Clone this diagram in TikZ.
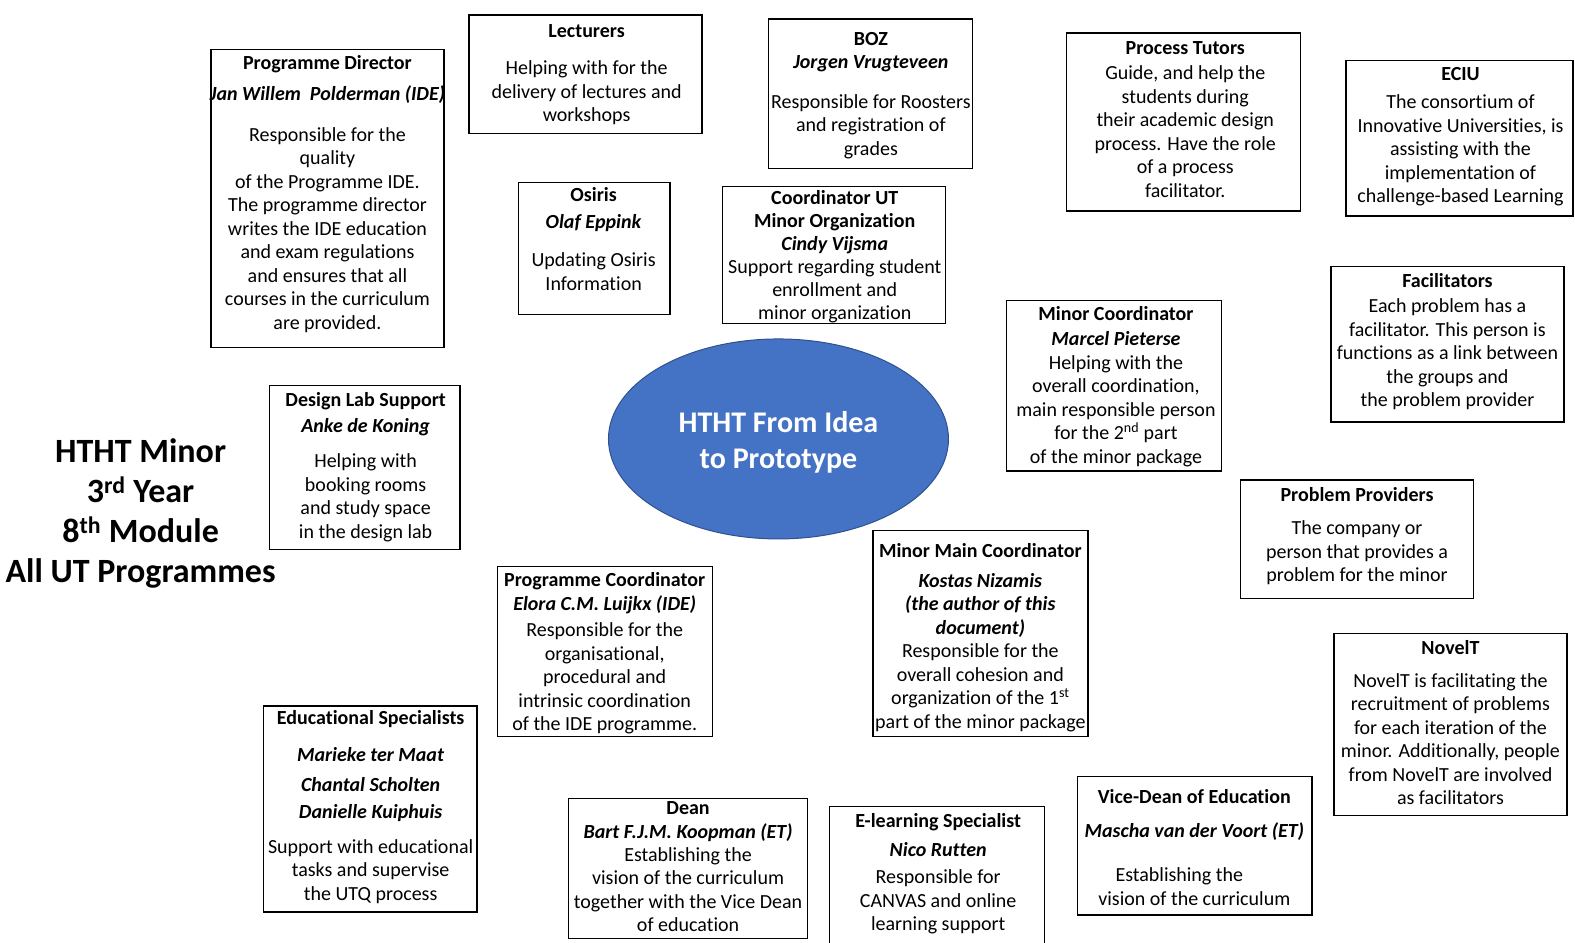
\documentclass[tikz,border=0pt]{standalone}
\usepackage{fontspec}
\setmainfont{Carlito}[Ligatures=NoCommon]
\usetikzlibrary{fit,shapes.geometric}
\definecolor{ovalfill}{HTML}{4472C4}
\definecolor{ovaldraw}{HTML}{2F528F}
\newcommand\hd[1]{\textbf{#1}}
\newcommand\nm[1]{\textbf{\textit{#1}}}
\begin{document}
\begin{tikzpicture}[x=1.0045pt,y=-1.0045pt,
  box/.style={draw=black, line width=1.3pt, inner sep=0pt},
  txt/.style={align=center, inner sep=0pt, anchor=north, yshift=-2pt,
    font=\fontsize{20}{23.5}\selectfont},
  bigtitle/.style={align=center, inner sep=0pt, anchor=north,
    font=\fontsize{34}{40}\selectfont\bfseries},
  oval/.style={ellipse, fill=ovalfill, draw=ovaldraw, line width=1pt,
    minimum width=340pt, minimum height=200pt, inner sep=0pt},
  ovaltext/.style={align=center, inner sep=0pt, text=white,
    font=\fontsize{30}{36}\selectfont\bfseries}]
\useasboundingbox (0,0) rectangle (1568,938);

% side title
\node[bigtitle] (title) at (140,432)
  {\strut HTHT Minor\\ 3\textsuperscript{rd} Year\\ 8\textsuperscript{th} Module\\ All UT Programmes};

% central oval
\node[oval] (core) at (775,437) {};
\node[ovaltext] (coret) at (775,440) {HTHT From Idea\\ to Prototype};

% Programme Director
\node[box, fit={(210,49) (442,346)}] (pd) {};
\node[txt] (pdt) at (326,50.5) {\strut\hd{Programme Director}\\[8pt]
  \nm{Jan Willem\ \ Polderman (IDE)}\\[17pt]
  Responsible for the\\ quality\\ of the Programme IDE.\\ The programme director\\
  writes the IDE education\\ and exam regulations\\ and ensures that all\\
  courses in the curriculum\\ are provided.};

% Lecturers
\node[box, fit={(467,15) (699,133)}] (lec) {};
\node[txt] (lect) at (584,18.5) {\strut\hd{Lecturers}\\[14pt]
  Helping with for the\\ delivery of lectures and\\ workshops};

% BOZ
\node[box, fit={(765,19) (968,168)}] (boz) {};
\node[txt] (bozt) at (867,26.5) {\strut\hd{BOZ}\\
  \nm{Jorgen Vrugteveen}\\[16pt]
  Responsible for Roosters\\ and registration of\\ grades};

% Osiris
\node[box, fit={(516,182) (667,313)}] (osi) {};
\node[txt] (osit) at (591,182.5) {\strut\hd{Osiris}\\[3pt]
  \nm{Olaf Eppink}\\[15pt]
  Updating Osiris\\ Information};

% Coordinator UT
\node[box, fit={(719,186) (941,322)}] (cut) {};
\node[txt, font=\fontsize{20}{23}\selectfont] (cutt) at (831,185.5) {\strut\hd{Coordinator UT}\\
  \hd{Minor Organization}\\ \nm{Cindy Vijsma}\\
  Support regarding student\\ enrollment and\\ minor organization};

% Process Tutors
\node[box, fit={(1062,33) (1295,210)}] (pt) {};
\node[txt] (ptt) at (1180,35.5) {\strut\hd{Process Tutors}\\[2pt]
  Guide, and help the\\ students during\\ their academic design\\
  process. Have the role\\ of a process\\ facilitator.};

% ECIU
\node[box, fit={(1340,60) (1566,215)}] (eciu) {};
\node[txt] (eciut) at (1454,61.5) {\strut\hd{ECIU}\\[5pt]
  The consortium of\\ Innovative Universities, is\\ assisting with the\\
  implementation of\\ challenge-based Learning};

% Facilitators
\node[box, fit={(1325,265) (1557,420)}] (fac) {};
\node[txt] (fact) at (1441,267.5) {\strut\hd{Facilitators}\\[2pt]
  Each problem has a\\ facilitator. This person is\\ functions as a link between\\
  the groups and\\ the problem provider};

% Minor Coordinator
\node[box, fit={(1002,299) (1216,469)}] (mc) {};
\node[txt] (mct) at (1111,300.5) {\strut\hd{Minor Coordinator}\\[2pt]
  \nm{Marcel Pieterse}\\ Helping with the\\ overall coordination,\\
  main responsible person\\ for the 2\textsuperscript{nd} part\\ of the minor package};

% Design Lab Support
\node[box, fit={(268,384) (458,547)}] (dls) {};
\node[txt] (dlst) at (364,386.5) {\strut\hd{Design Lab Support}\\[2pt]
  \nm{Anke de Koning}\\[12pt]
  Helping with\\ booking rooms\\ and study space\\ in the design lab};

% Problem Providers
\node[box, fit={(1235,478) (1467,596)}] (pp) {};
\node[txt] (ppt) at (1351,480.5) {\strut\hd{Problem Providers}\\[10pt]
  The company or\\ person that provides a\\ problem for the minor};

% Programme Coordinator
\node[box, fit={(495,564) (709,733)}] (pc) {};
\node[txt] (pct) at (602,565.5) {\strut\hd{Programme Coordinator}\\
  \nm{Elora C.M. Luijkx (IDE)}\\[3pt]
  Responsible for the\\ organisational,\\ procedural and\\
  intrinsic coordination\\ of the IDE programme.};

% Minor Main Coordinator
\node[box, fit={(869,528) (1083,733)}] (mmc) {};
\node[txt] (mmct) at (976,536.5) {\strut\hd{Minor Main Coordinator}\\[6pt]
  \nm{Kostas Nizamis}\\ \nm{(the author of this}\\ \nm{document)}\\
  Responsible for the\\ overall cohesion and\\ organization of the 1\textsuperscript{st}\\
  part of the minor package};

% NovelT
\node[box, fit={(1328,631) (1560,812)}] (nov) {};
\node[txt] (novt) at (1444,633.5) {\strut\hd{NovelT}\\[9pt]
  NovelT is facilitating the\\ recruitment of problems\\ for each iteration of the\\
  minor. Additionally, people\\ from NovelT are involved\\ as facilitators};

% Educational Specialists
\node[box, fit={(262,703) (475,908)}] (es) {};
\node[txt] (est) at (369,702.5) {\strut\hd{Educational Specialists}\\[14pt]
  \nm{Marieke ter Maat}\\[6pt] \nm{Chantal Scholten}\\[4pt] \nm{Danielle Kuiphuis}\\[11pt]
  Support with educational\\ tasks and supervise\\ the UTQ process};

% Dean
\node[box, fit={(566,795) (804,934)}] (dean) {};
\node[txt, font=\fontsize{20}{23.4}\selectfont] (deant) at (685,792.5) {\strut\hd{Dean}\\
  \nm{Bart F.J.M. Koopman (ET)}\\ Establishing the\\ vision of the curriculum\\
  together with the Vice Dean\\ of education};

% E-learning Specialist (runs off the lower edge)
\node[box, fit={(826,803) (1040,960)}] (el) {};
\node[txt] (elt) at (934,805.5) {\strut\hd{E-learning Specialist}\\[5pt]
  \nm{Nico Rutten}\\[4pt]
  Responsible for\\ CANVAS and online\\ learning support};

% Vice-Dean of Education
\node[box, fit={(1073,773) (1306,911)}] (vd) {};
\node[txt] (vdt) at (1189,781.5) {\strut\hd{Vice-Dean of Education}\\[10pt]
  \nm{Mascha van der Voort (ET)}\\[21pt]
  \hspace*{-1.5em}Establishing the\\ vision of the curriculum};
\end{tikzpicture}
\end{document}
